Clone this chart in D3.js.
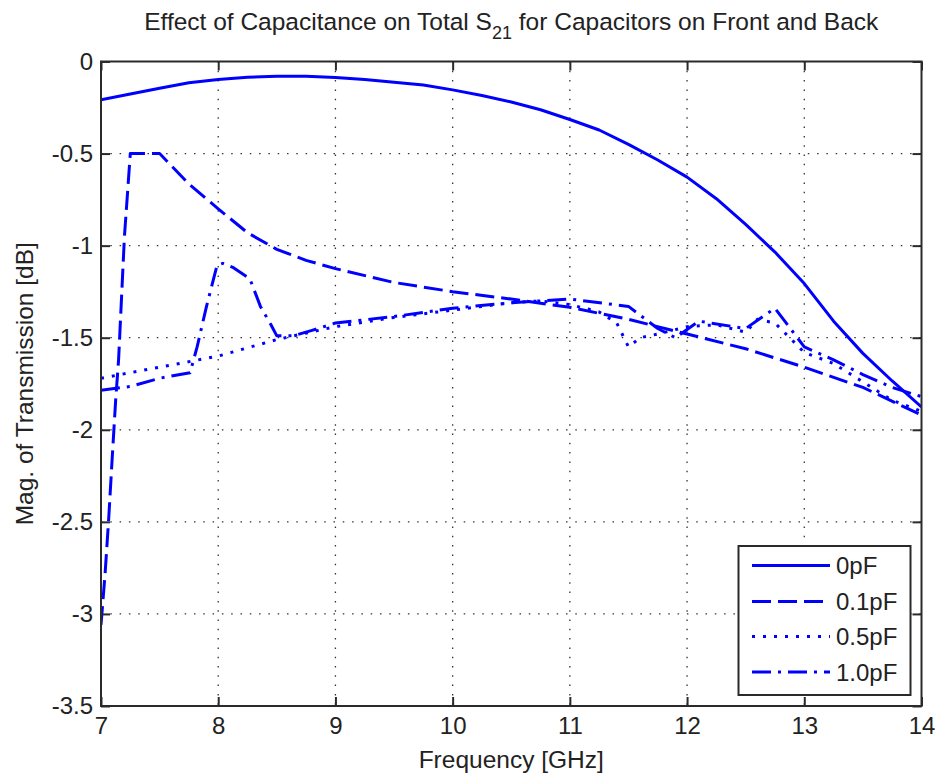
<!DOCTYPE html>
<html>
<head>
<meta charset="utf-8">
<script src="https://cdn.jsdelivr.net/npm/d3@7"></script>
<style>
  html, body { margin: 0; padding: 0; background: #fff; }
  svg { display: block; }
  text { font-family: "Liberation Sans", Arial, Helvetica, sans-serif; fill: #222; }
</style>
</head>
<body>
<svg id="chart" width="935" height="778"></svg>
<script>
// Axis ticks
const xTicks = [7, 8, 9, 10, 11, 12, 13, 14];
const yTicks = [0, -0.5, -1, -1.5, -2, -2.5, -3, -3.5];

// Series names (legend order)
const seriesNames = ["0pF", "0.1pF", "0.5pF", "1.0pF"];

// 0 pF
const freq0 = [7.0, 7.25, 7.5, 7.75, 8.0, 8.25, 8.5, 8.75, 9.0, 9.25, 9.5, 9.75, 10.0, 10.25, 10.5,
  10.75, 11.0, 11.25, 11.5, 11.75, 12.0, 12.25, 12.5, 12.75, 13.0, 13.25, 13.5, 13.75, 14.0];
const mag0 = [-0.208, -0.177, -0.145, -0.115, -0.098, -0.086, -0.080, -0.080, -0.087, -0.098, -0.113,
  -0.128, -0.154, -0.185, -0.220, -0.262, -0.315, -0.372, -0.450, -0.535, -0.628, -0.745, -0.885,
  -1.035, -1.206, -1.410, -1.585, -1.735, -1.876];

// 0.1 pF
const freq01 = [7.0, 7.035, 7.065, 7.095, 7.125, 7.15, 7.2, 7.25, 7.5, 7.75, 8.0, 8.25, 8.5, 8.75,
  9.0, 9.5, 10.0, 10.5, 11.0, 11.5, 12.0, 12.5, 13.0, 13.5, 14.0];
const mag01 = [-3.06, -2.78, -2.49, -2.16, -1.84, -1.62, -0.95, -0.50, -0.50, -0.665, -0.80, -0.93,
  -1.02, -1.08, -1.125, -1.20, -1.25, -1.29, -1.335, -1.40, -1.48, -1.56, -1.66, -1.77, -1.92];

// 0.5 pF
const freq05 = [7.0, 7.5, 8.0, 8.5, 9.0, 9.5, 10.0, 10.5, 10.75, 11.0, 11.25, 11.4, 11.5, 11.6, 11.75,
  12.0, 12.25, 12.5, 12.6, 12.75, 13.0, 13.25, 13.5, 13.75, 14.0];
const mag05 = [-1.72, -1.66, -1.60, -1.51, -1.44, -1.39, -1.35, -1.31, -1.30, -1.32, -1.36, -1.42,
  -1.55, -1.50, -1.48, -1.44, -1.43, -1.47, -1.40, -1.42, -1.58, -1.64, -1.74, -1.84, -1.90];

// 1.0 pF
const freq10 = [7.0, 7.25, 7.5, 7.76, 7.82, 7.9, 7.99, 8.04, 8.13, 8.27, 8.36, 8.45, 8.5, 8.64,
  8.8, 9.0, 9.5, 10.0, 10.5, 11.0, 11.5, 11.75, 11.9, 12.1, 12.5, 12.75, 13.0, 13.25, 13.5, 13.75, 14.0];
const mag10 = [-1.785, -1.765, -1.72, -1.69, -1.55, -1.33, -1.107, -1.096, -1.12, -1.18, -1.33,
  -1.43, -1.49, -1.49, -1.46, -1.42, -1.385, -1.34, -1.31, -1.29, -1.33, -1.45, -1.50, -1.41,
  -1.45, -1.34, -1.55, -1.62, -1.70, -1.77, -1.82];

const seriesFreq = [freq0, freq01, freq05, freq10];
const seriesMag = [mag0, mag01, mag05, mag10];
const dashes = [null, "19,7", "3,8", "19,7,3,7"];
const lineColor = "#0000ff";

const svg = d3.select("#chart");
const pLeft = 101, pRight = 921.5, pTop = 61.5, pBottom = 706;
const fontSize = 24.5;

const x = d3.scaleLinear().domain([7, 14]).range([pLeft, pRight]);
const y = d3.scaleLinear().domain([-3.5, 0]).range([pBottom, pTop]);

// dotted grid
const grid = svg.append("g").attr("stroke", "#333").attr("stroke-width", 1.3)
  .attr("stroke-dasharray", "1.5,7.8");
grid.selectAll("line.gx").data(xTicks.slice(1, -1)).join("line").attr("class", "gx")
  .attr("x1", d => x(d)).attr("x2", d => x(d)).attr("y1", pTop).attr("y2", pBottom);
grid.selectAll("line.gy").data(yTicks.slice(1, -1)).join("line").attr("class", "gy")
  .attr("y1", d => y(d)).attr("y2", d => y(d)).attr("x1", pLeft).attr("x2", pRight);

// series
svg.append("clipPath").attr("id", "plotclip").append("rect")
  .attr("x", pLeft).attr("y", pTop).attr("width", pRight - pLeft).attr("height", pBottom - pTop);
const line = d3.line().x(d => x(d[0])).y(d => y(d[1]));
const plot = svg.append("g").attr("clip-path", "url(#plotclip)");
seriesNames.forEach((name, i) => {
  const pts = seriesFreq[i].map((f, j) => [f, seriesMag[i][j]]);
  plot.append("path").datum(pts)
    .attr("d", line)
    .attr("fill", "none")
    .attr("stroke", lineColor)
    .attr("stroke-width", 3)
    .attr("stroke-linejoin", "round")
    .attr("stroke-dasharray", dashes[i]);
});

// axes with inward ticks on all four sides
const fmt = d => String(d);
const tickLen = 9;
const axB = svg.append("g").attr("transform", `translate(0,${pBottom})`)
  .call(d3.axisBottom(x).tickValues(xTicks).tickFormat(fmt).tickSizeInner(-tickLen).tickSizeOuter(0).tickPadding(11));
const axT = svg.append("g").attr("transform", `translate(0,${pTop})`)
  .call(d3.axisTop(x).tickValues(xTicks).tickFormat("").tickSizeInner(-tickLen).tickSizeOuter(0));
const axL = svg.append("g").attr("transform", `translate(${pLeft},0)`)
  .call(d3.axisLeft(y).tickValues(yTicks).tickFormat(fmt).tickSizeInner(-tickLen).tickSizeOuter(0).tickPadding(8));
const axR = svg.append("g").attr("transform", `translate(${pRight},0)`)
  .call(d3.axisRight(y).tickValues(yTicks).tickFormat("").tickSizeInner(-tickLen).tickSizeOuter(0));
[axB, axT, axL, axR].forEach(a => {
  a.selectAll(".domain").remove();
  a.selectAll(".tick line").attr("stroke", "#2a2a2a").attr("stroke-width", 2);
  a.selectAll(".tick text").attr("font-size", 24).attr("fill", "#222")
    .attr("font-family", "'Liberation Sans', Arial, sans-serif");
});
axB.selectAll(".tick text").attr("dy", "0.71em");

// axes box
svg.append("rect").attr("x", pLeft).attr("y", pTop).attr("width", pRight - pLeft).attr("height", pBottom - pTop)
  .attr("fill", "none").attr("stroke", "#2a2a2a").attr("stroke-width", 2);

// title with subscript
const title = svg.append("text").attr("x", (pLeft + pRight) / 2).attr("y", 30)
  .attr("text-anchor", "middle").attr("font-size", fontSize);
title.append("tspan").text("Effect of Capacitance on Total S");
title.append("tspan").attr("dy", 9).attr("font-size", 18).text("21");
title.append("tspan").attr("dy", -9).text(" for Capacitors on Front and Back");

// axis labels
svg.append("text").attr("x", (pLeft + pRight) / 2).attr("y", 768)
  .attr("text-anchor", "middle").attr("font-size", fontSize).text("Frequency [GHz]");
svg.append("text").attr("transform", `translate(33,${(pTop + pBottom) / 2}) rotate(-90)`)
  .attr("text-anchor", "middle").attr("font-size", fontSize).text("Mag. of Transmission [dB]");

// legend
const lg = svg.append("g");
const lgX = 738.5, lgY = 546, lgW = 172, lgH = 149;
lg.append("rect").attr("x", lgX).attr("y", lgY).attr("width", lgW).attr("height", lgH)
  .attr("fill", "#fff").attr("stroke", "#2a2a2a").attr("stroke-width", 2);
const rowY = [565.5, 601.5, 636.5, 672];
seriesNames.forEach((name, i) => {
  lg.append("line").attr("x1", 752).attr("x2", 830).attr("y1", rowY[i]).attr("y2", rowY[i])
    .attr("stroke", lineColor).attr("stroke-width", 3).attr("stroke-dasharray", dashes[i]);
  lg.append("text").attr("x", 836).attr("y", rowY[i]).attr("dy", "0.36em")
    .attr("font-size", 24).text(name);
});
</script>
</body>
</html>
